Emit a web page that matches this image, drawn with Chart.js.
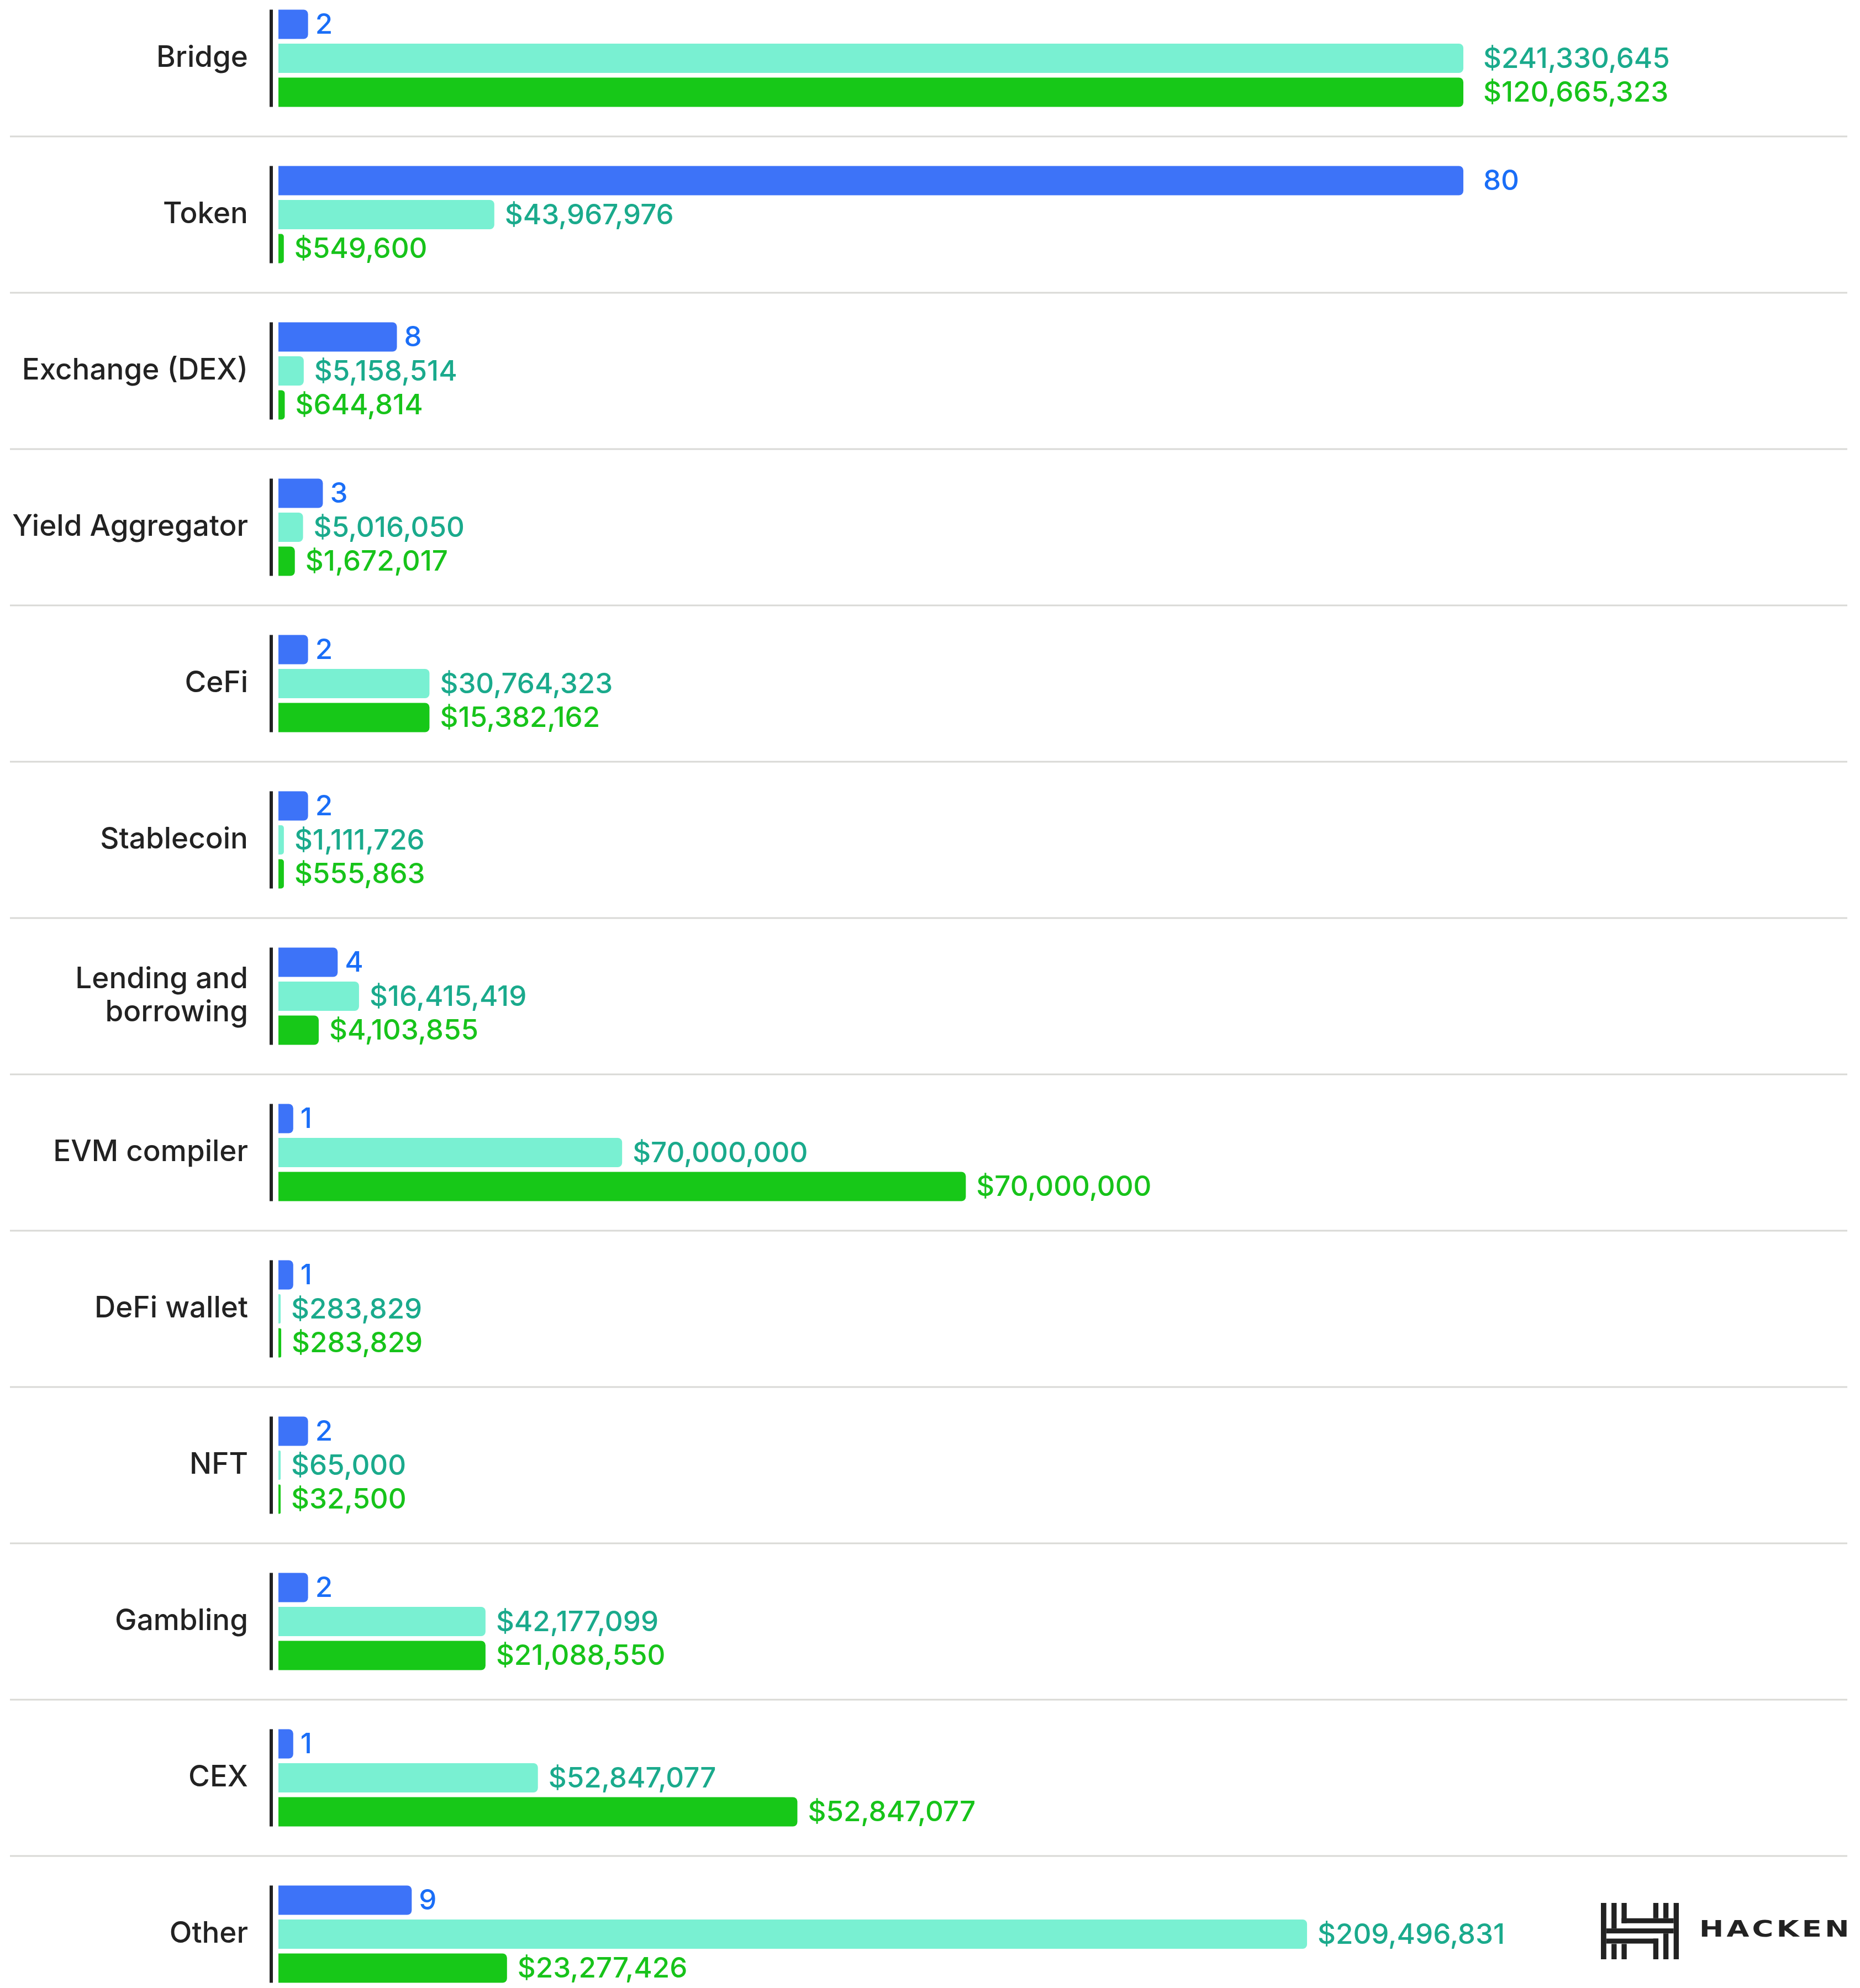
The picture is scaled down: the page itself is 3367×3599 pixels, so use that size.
<!DOCTYPE html>
<html>
<head>
<meta charset="utf-8">
<title>Incidents by category</title>
<script src="https://cdn.jsdelivr.net/npm/chart.js"></script>
<style>
  html, body { margin: 0; padding: 0; background: #ffffff; overflow: hidden; }
  body { width: 3367px; height: 3599px; position: relative; }
  #chartWrap { position: absolute; left: 0; top: -36px; width: 3367px; height: 3679px; }
  #logo { position: absolute; left: 2898px; top: 3445px; width: 460px; height: 110px; }
  #logo svg { position: absolute; left: 0; top: 0; }
  #logo span {
    position: absolute; left: 178px; top: 27px;
    font-family: "DejaVu Sans", sans-serif; font-weight: bold;
    font-size: 40px; letter-spacing: 4px; color: #222222; line-height: 1;
    transform: scaleX(1.32); transform-origin: left top; white-space: nowrap;
  }
</style>
</head>
<body>
<div id="chartWrap"><canvas id="categoryChart"></canvas></div>
<div id="logo">
  <svg width="141" height="102" viewBox="465 440 332 305" preserveAspectRatio="none">
    <g fill="#222222">
      <rect x="465" y="440" width="23" height="305"/>
      <rect x="775" y="440" width="22" height="305"/>
      <rect x="510" y="440" width="22" height="138"/>
      <rect x="553" y="440" width="22" height="110"/>
      <rect x="553" y="523" width="222" height="27"/>
      <rect x="688" y="440" width="22" height="83"/>
      <rect x="731" y="440" width="22" height="83"/>
      <rect x="488" y="578" width="287" height="27"/>
      <rect x="488" y="633" width="222" height="27"/>
      <rect x="688" y="633" width="22" height="112"/>
      <rect x="731" y="605" width="22" height="140"/>
      <rect x="553" y="662" width="22" height="83"/>
      <rect x="510" y="662" width="22" height="83"/>
    </g>
  </svg>
  <span>HACKEN</span>
</div>
<script>
// Categories and values
const categories = [
  'Bridge', 'Token', 'Exchange (DEX)', 'Yield Aggregator', 'CeFi', 'Stablecoin',
  ['Lending and', 'borrowing'], 'EVM compiler', 'DeFi wallet', 'NFT', 'Gambling', 'CEX', 'Other'
];
const incidentCounts = [2, 80, 8, 3, 2, 2, 4, 1, 1, 2, 2, 1, 9];
const lossTotal = [
  241330645, 43967976, 5158514, 5016050, 30764323, 1111726, 16415419,
  70000000, 283829, 65000, 42177099, 52847077, 209496831
];
const lossNet = [
  120665323, 549600, 644814, 1672017, 15382162, 555863, 4103855,
  70000000, 283829, 32500, 21088550, 52847077, 23277426
];

const BAR_COLORS = ['#3d73f8', '#79f0d2', '#17c818'];
const LABEL_COLORS = ['#1a6ef7', '#1aaa8c', '#17c31a'];
const VALUE_FONT = '500 51px Inter';

function formatUsd(v) {
  return '$' + v.toLocaleString('en-US');
}

// Separators between categories and the short dark line beside each group
const groupLines = {
  id: 'groupLines',
  beforeDatasetsDraw(chart) {
    const { ctx, chartArea } = chart;
    const yScale = chart.scales.y;
    const first = chart.getDatasetMeta(0).data;
    const last = chart.getDatasetMeta(2).data;
    ctx.save();
    ctx.strokeStyle = '#d9d9d6';
    ctx.lineWidth = 3;
    for (let i = 0; i < categories.length - 1; i++) {
      const y = (yScale.getPixelForValue(i) + yScale.getPixelForValue(i + 1)) / 2;
      ctx.beginPath();
      ctx.moveTo(18, y);
      ctx.lineTo(3344, y);
      ctx.stroke();
    }
    ctx.fillStyle = '#222222';
    for (let i = 0; i < categories.length; i++) {
      const top = first[i].y - first[i].height / 2;
      const bottom = last[i].y + last[i].height / 2;
      ctx.fillRect(chartArea.left - 16, top, 6, bottom - top);
    }
    ctx.restore();
  }
};

// Value labels at the end of each bar
const valueLabels = {
  id: 'valueLabels',
  afterDatasetsDraw(chart) {
    const { ctx } = chart;
    ctx.save();
    ctx.font = VALUE_FONT;
    ctx.textBaseline = 'middle';
    ctx.textAlign = 'left';
    chart.data.datasets.forEach((ds, i) => {
      const meta = chart.getDatasetMeta(i);
      const max = Math.max(...ds.data);
      ctx.fillStyle = LABEL_COLORS[i];
      meta.data.forEach((bar, j) => {
        const value = ds.data[j];
        const text = i === 0 ? String(value) : formatUsd(value);
        let gap = i === 0 ? 13 : 19;
        if (value === max) gap = 36;
        ctx.fillText(text, bar.x + gap, bar.y + 2);
      });
    });
    ctx.restore();
  }
};

const commonBar = {
  borderRadius: 8,
  borderSkipped: 'start',
  minBarLength: 4,
  categoryPercentage: 0.652,
  barPercentage: 0.862
};

new Chart(document.getElementById('categoryChart'), {
  type: 'bar',
  data: {
    labels: categories,
    datasets: [
      { label: 'Incidents', data: incidentCounts, backgroundColor: BAR_COLORS[0], xAxisID: 'xCount', ...commonBar },
      { label: 'Total loss', data: lossTotal, backgroundColor: BAR_COLORS[1], xAxisID: 'xTotal', ...commonBar },
      { label: 'Net loss', data: lossNet, backgroundColor: BAR_COLORS[2], xAxisID: 'xNet', ...commonBar }
    ]
  },
  options: {
    indexAxis: 'y',
    responsive: true,
    maintainAspectRatio: false,
    devicePixelRatio: 1,
    animation: false,
    layout: {
      padding: { left: 0, right: 718, top: 0, bottom: 0 }
    },
    plugins: {
      legend: { display: false },
      tooltip: { enabled: false }
    },
    scales: {
      y: {
        position: 'left',
        grid: { display: false, drawTicks: false },
        border: { display: false },
        ticks: {
          padding: 55,
          color: '#222222',
          font: { family: 'Inter', size: 53, weight: '500', lineHeight: 1.13 }
        },
        afterFit(scale) {
          // fixed label column; no extra top/bottom room for the labels
          scale.width = 504;
          scale.paddingTop = 0;
          scale.paddingBottom = 0;
        }
      },
      xCount: { type: 'linear', display: false, min: 0, max: Math.max(...incidentCounts) },
      xTotal: { type: 'linear', display: false, min: 0, max: Math.max(...lossTotal) },
      xNet: { type: 'linear', display: false, min: 0, max: Math.max(...lossNet) }
    }
  },
  plugins: [groupLines, valueLabels]
});
</script>
</body>
</html>
